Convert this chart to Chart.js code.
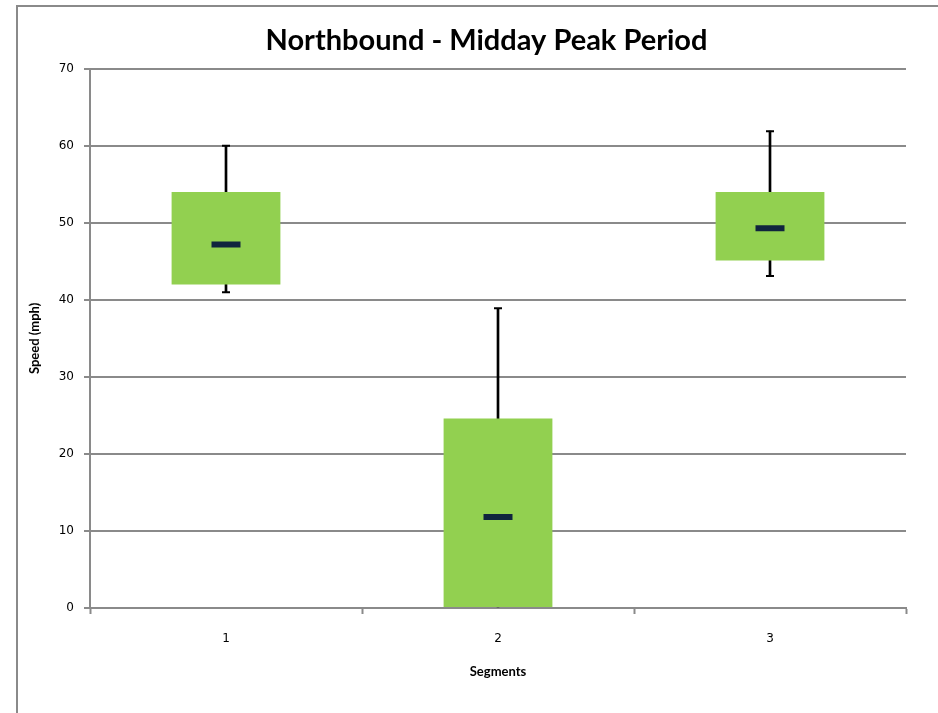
<!DOCTYPE html>
<html>
<head>
<meta charset="utf-8">
<script src="https://cdn.jsdelivr.net/npm/chart.js@4/dist/chart.umd.min.js"></script>
<style>
  html, body { margin: 0; padding: 0; background: #fff; overflow: hidden; }
</style>
</head>
<body>
<canvas id="boxChart" width="938" height="713"></canvas>
<script>
// Box plot data (speed in mph)
const segments = ['1', '2', '3'];
const mins = [41, 0, 43.1];
const q1s = [42, 0, 45.1];
const medians = [47.2, 11.8, 49.3];
const q3s = [54, 24.6, 54];
const maxs = [60, 38.9, 61.9];
const yTicks = [0, 10, 20, 30, 40, 50, 60, 70];

const gridColor = '#8a8a8a';

// Outer frame of the chart object
const framePlugin = {
  id: 'frame',
  beforeDraw(chart) {
    const ctx = chart.ctx;
    ctx.save();
    ctx.strokeStyle = '#8a8a8a';
    ctx.lineWidth = 2;
    ctx.beginPath();
    ctx.moveTo(17, 720);
    ctx.lineTo(17, 6);
    ctx.lineTo(960, 6);
    ctx.stroke();
    ctx.restore();
  }
};

// Title is centred on the original (wider) chart object, so nudge it right
const titleShift = {
  id: 'titleShift',
  afterLayout(chart) {
    if (chart.titleBlock) {
      chart.titleBlock.left += 25;
      chart.titleBlock.right += 25;
    }
  }
};

const ctx = document.getElementById('boxChart').getContext('2d');
new Chart(ctx, {
  type: 'bar',
  data: {
    labels: segments,
    datasets: [
      {
        type: 'line',
        label: 'Median',
        data: medians,
        showLine: false,
        pointStyle: 'line',
        pointRadius: 14.5,
        pointBorderWidth: 6,
        pointBorderColor: '#10243e',
        pointBackgroundColor: '#10243e'
      },
      {
        type: 'line',
        label: 'Max cap',
        data: maxs,
        showLine: false,
        pointStyle: 'line',
        pointRadius: 4,
        pointBorderWidth: 2,
        pointBorderColor: '#000'
      },
      {
        type: 'line',
        label: 'Min cap',
        data: mins.map((m, i) => (m < q1s[i] ? m : null)),
        showLine: false,
        pointStyle: 'line',
        pointRadius: 4,
        pointBorderWidth: 2,
        pointBorderColor: '#000'
      },
      {
        label: 'Box',
        data: q1s.map((q, i) => [q, q3s[i]]),
        backgroundColor: '#92d050',
        borderWidth: 0,
        grouped: false,
        barPercentage: 0.4,
        categoryPercentage: 1
      },
      {
        label: 'Whisker',
        data: mins.map((m, i) => [m, maxs[i]]),
        backgroundColor: '#000',
        borderWidth: 0,
        grouped: false,
        barThickness: 2
      }
    ]
  },
  options: {
    responsive: false,
    animation: false,
    layout: {
      padding: { left: 17, right: 32, top: 23, bottom: 33 }
    },
    plugins: {
      legend: { display: false },
      tooltip: { enabled: false },
      title: {
        display: true,
        text: 'Northbound - Midday Peak Period',
        color: '#000',
        font: { family: 'Lato', size: 29, weight: 'bold' },
        padding: { top: 0, bottom: 11 }
      }
    },
    scales: {
      x: {
        offset: true,
        grid: {
          offset: true,
          drawOnChartArea: false,
          drawTicks: true,
          tickLength: 6,
          tickWidth: 2,
          tickColor: gridColor
        },
        border: { color: gridColor, width: 2 },
        ticks: {
          color: '#000',
          padding: 18,
          font: { family: 'DejaVu Sans', size: 12 }
        },
        title: {
          display: true,
          text: 'Segments',
          color: '#000',
          font: { family: 'Lato', size: 13, weight: 'bold' },
          padding: { top: 0, bottom: 0 }
        }
      },
      y: {
        min: 0,
        max: 70,
        afterBuildTicks(scale) {
          scale.ticks = yTicks.map(v => ({ value: v }));
        },
        afterFit(scale) {
          scale.width = 73;
        },
        grid: {
          color: gridColor,
          lineWidth: 2,
          drawTicks: true,
          tickLength: 6,
          tickColor: gridColor
        },
        border: { color: gridColor, width: 2 },
        ticks: {
          color: '#000',
          padding: 10,
          font: { family: 'DejaVu Sans', size: 12 }
        },
        title: {
          display: true,
          text: 'Speed (mph)',
          color: '#000',
          font: { family: 'Lato', size: 13, weight: 'bold' },
          padding: { top: 10, bottom: 0 }
        }
      }
    }
  },
  plugins: [framePlugin, titleShift]
});
</script>
</body>
</html>
